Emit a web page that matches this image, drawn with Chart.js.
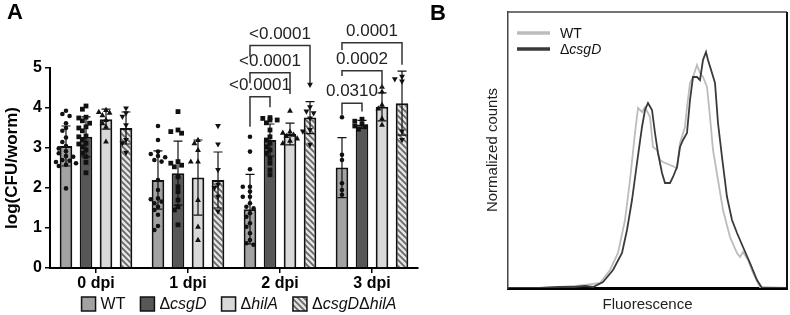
<!DOCTYPE html>
<html><head><meta charset="utf-8">
<script src="https://cdn.jsdelivr.net/npm/chart.js@4/dist/chart.umd.min.js"></script>
<style>
html,body{margin:0;padding:0;background:#fff;width:790px;height:315px;overflow:hidden}
#ca{position:absolute;left:0;top:0}
#cb{position:absolute;left:425px;top:0}
</style></head><body>
<canvas id="ca" width="425" height="315"></canvas>
<canvas id="cb" width="365" height="315"></canvas>
<script>
// ---------- Panel A data ----------
const days = ['0 dpi','1 dpi','2 dpi','3 dpi'];
const strains = ['WT','ΔcsgD','ΔhilA','ΔcsgDΔhilA'];
const meanWT     = [3.05, 2.20, 1.47, 2.51];
const meanCsgD   = [3.28, 2.37, 3.20, 3.59];
const meanHilA   = [3.72, 2.26, 3.35, 4.03];
const meanDouble = [3.50, 2.20, 3.76, 4.12];
const sdWT     = [0.50, 0.73, 0.87, 0.75];
const sdCsgD   = [0.50, 0.80, 0.40, 0.10];
const sdHilA   = [0.25, 0.94, 0.27, 0.35];
const sdDouble = [0.40, 0.70, 0.40, 0.80];
const ptsWT = [
  [3.93,3.85,3.8,3.62,3.5,3.43,3.26,3.15,3.05,2.99,2.92,2.87,2.8,2.78,2.7,2.68,2.65,2.62,2.58,2.55,1.99],
  [3.55,3.2,2.91,2.85,2.8,2.77,2.7,2.66,2.2,1.95,1.74,1.72,1.66,1.62,1.53,1.45,1.33,1.05,0.95],
  [3.28,2.91,2.47,2.03,2.03,1.91,1.78,1.78,1.62,1.53,1.49,1.37,1.28,1.12,1.03,0.87,0.7,0.62,0.58],
  [3.77,2.83,2.7,2.12,1.95,1.83]
];
const ptsCsgD = [
  [4.05,3.97,3.77,3.75,3.68,3.62,3.53,3.5,3.43,3.3,3.28,3.2,3.12,3.1,3.03,2.95,2.87,2.78,2.64,2.38],
  [3.91,3.45,3.41,3.37,2.66,2.62,2.57,2.53,2.28,2.03,1.91,1.7,1.53,1.45,1.08],
  [3.76,3.74,3.7,3.7,3.63,3.45,3.28,3.2,3.12,3.03,2.95,2.87,2.74,2.62,2.45,2.33],
  [3.72,3.67,3.6,3.55,3.53,3.47]
];
const ptsHilA = [
  [3.95,3.9,3.88,3.82,3.7,3.62,3.53,3.16],
  [3.2,3.12,2.95,2.66,2.66,1.7,1.03,0.7],
  [3.93,3.41,3.38,3.33,3.3,3.24,3.18,3.12],
  [4.53,4.41,4.08,3.99,3.74,3.58]
];
const ptsDouble = [
  [3.99,3.87,3.78,3.57,3.2,3.12,2.88],
  [3.55,3.09,2.45,2.08,2.0,1.78,1.41],
  [4.58,4.02,3.91,3.87,3.74,3.45,3.41,3.08],
  [4.78,4.72,4.66,3.41,3.2]
];
const yTicks = [0,1,2,3,4,5];
// significance brackets
const brDay   = [2,2,2,3,3,3];
const brFrom  = [0,0,0,0,0,0];
const brTo    = [1,2,3,1,2,3];
const brTop   = [4.28,4.88,5.56,4.12,4.93,5.63];
const brLegL  = [3.53,4.62,5.28,3.83,4.80,5.45];
const brLegR  = [4.02,4.35,4.62,3.91,4.52,5.08];
const brLabel = ['<0.0001','<0.0001','<0.0001','0.0310','0.0002','0.0001'];

// ---------- Panel B data (flow histogram, arbitrary units) ----------
const wtFluor = [0,32,52,67,77,92,102,110,117,122,127,130,134,137,142,145,149,152,155,162,169,172,177,179,182,185,189,192,195,199,202,205,210,215,222,229,232,235,240,245,252,279];
const wtCount = [0,0,1,2,3,5,18,35,68,108,155,180,176,181,171,141,138,128,126,123,120,145,161,181,205,211,223,215,211,201,171,138,108,78,51,35,31,36,28,15,1,0];
const csgFluor = [0,32,52,67,77,85,95,105,114,119,124,129,134,137,140,144,147,150,154,157,162,165,169,172,175,179,182,185,189,192,195,198,200,204,207,210,214,219,224,229,235,242,249,254,279];
const csgCount = [0,0,1,1,2,1,6,18,35,58,88,125,161,178,185,178,155,135,115,105,105,111,121,141,148,155,188,211,211,208,228,236,228,215,205,165,131,91,68,55,41,25,8,0,0];
const histLabels = ['WT','ΔcsgD'];

// ---------- helpers ----------
const FAM = "'Liberation Sans', Arial, sans-serif";
Chart.defaults.font.family = FAM;
Chart.defaults.color = '#000';

function makeHatch(ctx){
  const c = document.createElement('canvas'); c.width = 6; c.height = 6;
  const g = c.getContext('2d');
  g.fillStyle = '#e4e4e4'; g.fillRect(0,0,6,6);
  g.strokeStyle = '#666'; g.lineWidth = 1.7; g.beginPath();
  g.moveTo(-1,-1); g.lineTo(7,7);
  g.moveTo(-1,5); g.lineTo(1,7);
  g.moveTo(5,-1); g.lineTo(7,1);
  g.stroke();
  return ctx.createPattern(c,'repeat');
}
function drawRich(ctx, text, x, y, size, weight){
  const parts = [];
  const re = /(Δ)|([^Δ]+)/g; let m;
  while ((m = re.exec(text))) parts.push(m[1] ? {t:'Δ',it:false} : {t:m[2], it: text.includes('Δ')});
  let cx = x;
  for (const p of parts){
    ctx.font = (p.it ? 'italic ' : '') + (weight||'') + ' ' + size + 'px ' + FAM;
    ctx.fillText(p.t, cx, y);
    cx += ctx.measureText(p.t).width;
  }
  return cx - x;
}
function richWidth(ctx, text, size){
  const re = /(Δ)|([^Δ]+)/g; let m; let w = 0;
  while ((m = re.exec(text))) {
    const it = !m[1] && text.includes('Δ');
    ctx.font = (it ? 'italic ' : '') + size + 'px ' + FAM;
    w += ctx.measureText(m[1] || m[2]).width;
  }
  return w;
}
function drawMarker(ctx, kind, x, y){
  ctx.beginPath();
  if (kind === 0) ctx.arc(x, y, 2.3, 0, Math.PI*2);
  else if (kind === 1) ctx.rect(x-2.4, y-2.4, 4.8, 4.8);
  else if (kind === 2){ ctx.moveTo(x, y-3.2); ctx.lineTo(x+2.9, y+2); ctx.lineTo(x-2.9, y+2); ctx.closePath(); }
  else { ctx.moveTo(x, y+3.2); ctx.lineTo(x+2.9, y-2); ctx.lineTo(x-2.9, y-2); ctx.closePath(); }
  ctx.fill();
}

const ctxA = document.getElementById('ca').getContext('2d');
const hatch = makeHatch(ctxA);
const fills = ['#a2a2a2', '#575757', '#d9d9d9', hatch];
const means = [meanWT, meanCsgD, meanHilA, meanDouble];
const sds = [sdWT, sdCsgD, sdHilA, sdDouble];
const pts = [ptsWT, ptsCsgD, ptsHilA, ptsDouble];

const panelAPlugin = {
  id: 'panelA',
  afterDatasetsDraw(chart){
    const ctx = chart.ctx, ys = chart.scales.y;
    ctx.save();
    for (let d = 0; d < 4; d++){
      const meta = chart.getDatasetMeta(d);
      meta.data.forEach((bar, i) => {
        const x = bar.x;
        const yTop = ys.getPixelForValue(means[d][i] + sds[d][i]);
        const yBot = ys.getPixelForValue(Math.max(0, means[d][i] - sds[d][i]));
        ctx.strokeStyle = '#111'; ctx.lineWidth = 1.2;
        ctx.beginPath();
        ctx.moveTo(x, yTop); ctx.lineTo(x, yBot);
        ctx.moveTo(x-4.5, yTop); ctx.lineTo(x+4.5, yTop);
        ctx.moveTo(x-4.5, yBot); ctx.lineTo(x+4.5, yBot);
        ctx.stroke();
        const placed = [];
        const offs = [0,-3.6,3.6,-7.2,7.2,-10,10];
        ctx.fillStyle = '#111';
        for (const v of pts[d][i]){
          const py = ys.getPixelForValue(v);
          let px = x;
          for (const o of offs){
            const ok = placed.every(p => Math.hypot(p[0]-(x+o), p[1]-py) >= 4.4);
            if (ok){ px = x + o; break; }
          }
          placed.push([px, py]);
          drawMarker(ctx, d, px, py);
        }
      });
    }
    ctx.restore();
  },
  afterDraw(chart){
    const ctx = chart.ctx, ys = chart.scales.y, ca = chart.chartArea;
    ctx.save();
    for (let k = 0; k < brDay.length; k++){
      const x1 = chart.getDatasetMeta(brFrom[k]).data[brDay[k]].x;
      const x2 = chart.getDatasetMeta(brTo[k]).data[brDay[k]].x;
      const yt = ys.getPixelForValue(brTop[k]);
      ctx.strokeStyle = '#333'; ctx.lineWidth = 1.5;
      ctx.beginPath();
      ctx.moveTo(x1, ys.getPixelForValue(brLegL[k]));
      ctx.lineTo(x1, yt); ctx.lineTo(x2, yt);
      ctx.lineTo(x2, ys.getPixelForValue(brLegR[k]));
      ctx.stroke();
      ctx.fillStyle = '#222'; ctx.font = '17px ' + FAM;
      ctx.textAlign = 'center'; ctx.textBaseline = 'bottom';
      ctx.fillText(brLabel[k], (x1+x2)/2, yt - 3);
    }
    const sw = 14, gapT = 5, gapI = 15, fs = 16;
    let total = 0;
    strains.forEach((s, i) => { total += sw + gapT + richWidth(ctx, s, fs) + (i < strains.length-1 ? gapI : 0); });
    let lx = (ca.left + ca.right)/2 + 5 - total/2;
    const ly = 304;
    ctx.textAlign = 'left'; ctx.textBaseline = 'middle';
    strains.forEach((s, i) => {
      ctx.fillStyle = fills[i];
      ctx.fillRect(lx, ly - sw/2, sw, sw);
      ctx.strokeStyle = '#111'; ctx.lineWidth = 1.5;
      ctx.strokeRect(lx, ly - sw/2, sw, sw);
      ctx.fillStyle = '#111';
      const w = drawRich(ctx, s, lx + sw + gapT, ly + 1, fs, '');
      lx += sw + gapT + w + gapI;
    });
    ctx.font = 'bold 22px ' + FAM; ctx.textBaseline = 'top'; ctx.fillStyle = '#000';
    ctx.fillText('A', 7, 2);
    ctx.restore();
  }
};

new Chart(ctxA, {
  type: 'bar',
  data: {
    labels: days,
    datasets: strains.map((s, i) => ({
      label: s, data: means[i], backgroundColor: fills[i],
      borderColor: '#111', borderWidth: 2,
      barPercentage: 0.63, categoryPercentage: 0.87
    }))
  },
  options: {
    responsive: false, animation: false,
    layout: { padding: { top: 68, right: 7, bottom: 21, left: 0 } },
    plugins: { legend: { display: false }, tooltip: { enabled: false } },
    scales: {
      x: {
        grid: { offset: false, drawOnChartArea: false, drawTicks: true, tickLength: 5, color: '#000', lineWidth: 1.5 },
        border: { color: '#000', width: 2 },
        ticks: { font: { size: 16, weight: 'bold' }, color: '#000', padding: 1 },
        afterFit: s => { s.height = 26; }
      },
      y: {
        min: 0, max: 5,
        afterBuildTicks: s => { s.ticks = yTicks.map(v => ({ value: v })); },
        grid: { drawOnChartArea: false, drawTicks: true, tickLength: 5, color: '#000', lineWidth: 1.5 },
        border: { color: '#000', width: 2 },
        ticks: { font: { size: 16, weight: 'bold' }, color: '#000', padding: 3 },
        title: { display: true, text: 'log(CFU/worm)', font: { size: 17, weight: 'bold' }, color: '#000', padding: { top: 2, bottom: 0 } },
        afterFit: s => { s.width = 50; }
      }
    }
  },
  plugins: [panelAPlugin]
});

// ---------- Panel B ----------
const ctxB = document.getElementById('cb').getContext('2d');
const histColors = ['#bcbcbc', '#3a3a3a'];
const panelBPlugin = {
  id: 'panelB',
  afterDraw(chart){
    const ctx = chart.ctx, ca = chart.chartArea;
    ctx.save();
    ctx.strokeStyle = '#444'; ctx.lineWidth = 1.5;
    ctx.beginPath(); ctx.moveTo(ca.left, ca.top); ctx.lineTo(ca.right, ca.top); ctx.stroke();
    ctx.strokeStyle = '#111'; ctx.lineWidth = 2;
    ctx.beginPath(); ctx.moveTo(ca.right, ca.top); ctx.lineTo(ca.right, ca.bottom); ctx.stroke();
    histLabels.forEach((s, i) => {
      const y = ca.top + 21 + i*16;
      ctx.strokeStyle = histColors[i]; ctx.lineWidth = 3.5;
      ctx.beginPath(); ctx.moveTo(ca.left + 9, y); ctx.lineTo(ca.left + 42, y); ctx.stroke();
      ctx.fillStyle = '#111'; ctx.textAlign = 'left'; ctx.textBaseline = 'middle';
      drawRich(ctx, s, ca.left + 52, y + 1, 14, '');
    });
    ctx.font = 'bold 22px ' + FAM; ctx.textBaseline = 'top'; ctx.fillStyle = '#000';
    ctx.fillText('B', 5, 3);
    ctx.restore();
  }
};
new Chart(ctxB, {
  type: 'line',
  data: {
    datasets: [
      { label: histLabels[0], data: wtFluor.map((x, i) => ({ x, y: wtCount[i] })), borderColor: histColors[0], borderWidth: 1.8, pointRadius: 0, tension: 0, fill: false, order: 1 },
      { label: histLabels[1], data: csgFluor.map((x, i) => ({ x, y: csgCount[i] })), borderColor: histColors[1], borderWidth: 1.8, pointRadius: 0, tension: 0, fill: false, order: 0 }
    ]
  },
  options: {
    responsive: false, animation: false,
    layout: { padding: { top: 12, right: 3, bottom: 0, left: 55 } },
    plugins: { legend: { display: false }, tooltip: { enabled: false } },
    scales: {
      x: {
        type: 'linear', min: 0, max: 279,
        grid: { display: false }, ticks: { display: false },
        border: { color: '#000', width: 3 },
        title: { display: true, text: 'Fluorescence', font: { size: 15 }, color: '#222', padding: { top: 0, bottom: 1 } },
        afterFit: s => { s.height = 27; }
      },
      y: {
        min: 0, max: 276,
        grid: { display: false }, ticks: { display: false },
        border: { color: '#444', width: 1.5 },
        title: { display: true, text: 'Normalized counts', font: { size: 15 }, color: '#222', padding: { top: 4, bottom: 0 } },
        afterFit: s => { s.width = 28; }
      }
    }
  },
  plugins: [panelBPlugin]
});
</script>
</body></html>
